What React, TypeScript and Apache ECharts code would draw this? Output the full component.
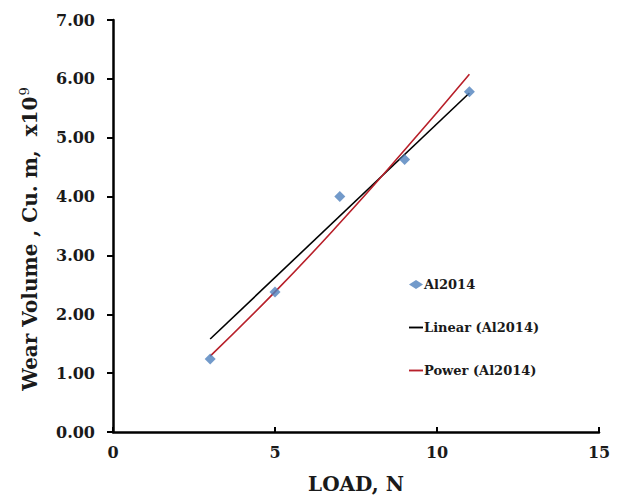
import React, { useEffect, useRef } from "react";
import * as echarts from "echarts";

const loadN = [3, 5, 7, 9, 11];
const wearVolume = [1.24, 2.38, 4.0, 4.63, 5.78];
const linearX = [3, 11];
const linearY = [1.58, 5.76];
const powerX = [3, 5, 7, 9, 11];
const powerY = [1.29, 2.38, 3.55, 4.79, 6.08];
const xTicks = [0, 5, 10, 15];
const yTicks = [0, 1, 2, 3, 4, 5, 6, 7];

const FONT = "DejaVu Serif";

export default function App() {
  const ref = useRef<HTMLDivElement>(null);
  useEffect(() => {
    document.body.style.margin = "0";
    const chart = echarts.init(ref.current!, null, { renderer: "svg" });
    chart.setOption({
      animation: false,
      backgroundColor: "#ffffff",
      grid: { left: 113, right: 23, top: 20, bottom: 66, outerBoundsMode: "none" },
      legend: {
        orient: "vertical",
        left: 404,
        top: 273,
        itemWidth: 14,
        itemHeight: 9,
        itemGap: 30,
        textStyle: {
          fontFamily: FONT,
          fontWeight: "bold",
          fontSize: 13,
          color: "#1a1a1a",
          padding: [0, 0, 0, -4],
        },
        data: [
          { name: "Al2014", icon: "diamond" },
          { name: "Linear (Al2014)", icon: "path://M0,0 L12,0 L12,1.6 L0,1.6 Z" },
          { name: "Power (Al2014)", icon: "path://M0,0 L12,0 L12,1.6 L0,1.6 Z" },
        ],
      },
      xAxis: {
        type: "value",
        min: xTicks[0],
        max: xTicks[xTicks.length - 1],
        interval: 5,
        name: "LOAD, N",
        nameLocation: "middle",
        nameGap: 42,
        nameTextStyle: { fontFamily: FONT, fontWeight: "bold", fontSize: 20, color: "#1a1a1a" },
        axisLine: { onZero: false, lineStyle: { color: "#000", width: 2.5 } },
        axisTick: { inside: true, length: 5, lineStyle: { color: "#000", width: 2 } },
        axisLabel: { margin: 12, fontFamily: FONT, fontWeight: "bold", fontSize: 16, color: "#1a1a1a" },
        splitLine: { show: false },
      },
      yAxis: {
        type: "value",
        min: yTicks[0],
        max: yTicks[yTicks.length - 1],
        interval: 1,
        name: "{a|Wear Volume , Cu. m,  x10}{s|9}",
        nameLocation: "middle",
        nameGap: 72,
        nameTextStyle: {
          padding: [0, 26, 0, 0],
          rich: {
            a: { fontFamily: FONT, fontWeight: "bold", fontSize: 20, color: "#1a1a1a" },
            s: { fontFamily: FONT, fontSize: 13, color: "#1a1a1a", padding: [0, 0, 10, 1] },
          },
        },
        axisLine: { onZero: false, lineStyle: { color: "#000", width: 2.5 } },
        axisTick: { inside: false, length: 6, lineStyle: { color: "#000", width: 2 } },
        axisLabel: {
          margin: 18,
          fontFamily: FONT,
          fontWeight: "bold",
          fontSize: 16,
          color: "#1a1a1a",
          formatter: (v: number) => v.toFixed(2),
        },
        splitLine: { show: false },
      },
      series: [
        {
          name: "Al2014",
          type: "scatter",
          symbol: "diamond",
          symbolSize: 11,
          itemStyle: { color: "#4F81BD" },
          data: loadN.map((x, i) => [x, wearVolume[i]]),
          z: 3,
        },
        {
          name: "Linear (Al2014)",
          type: "line",
          showSymbol: false,
          symbol: "none",
          itemStyle: { color: "#000000" },
          lineStyle: { color: "#000000", width: 1.6 },
          data: linearX.map((x, i) => [x, linearY[i]]),
          z: 2,
        },
        {
          name: "Power (Al2014)",
          type: "line",
          showSymbol: false,
          symbol: "none",
          smooth: true,
          itemStyle: { color: "#B8202A" },
          lineStyle: { color: "#B8202A", width: 1.6 },
          data: powerX.map((x, i) => [x, powerY[i]]),
          z: 2,
        },
      ],
    });
    return () => chart.dispose();
  }, []);
  return <div ref={ref} style={{ width: 622, height: 498 }} />;
}
